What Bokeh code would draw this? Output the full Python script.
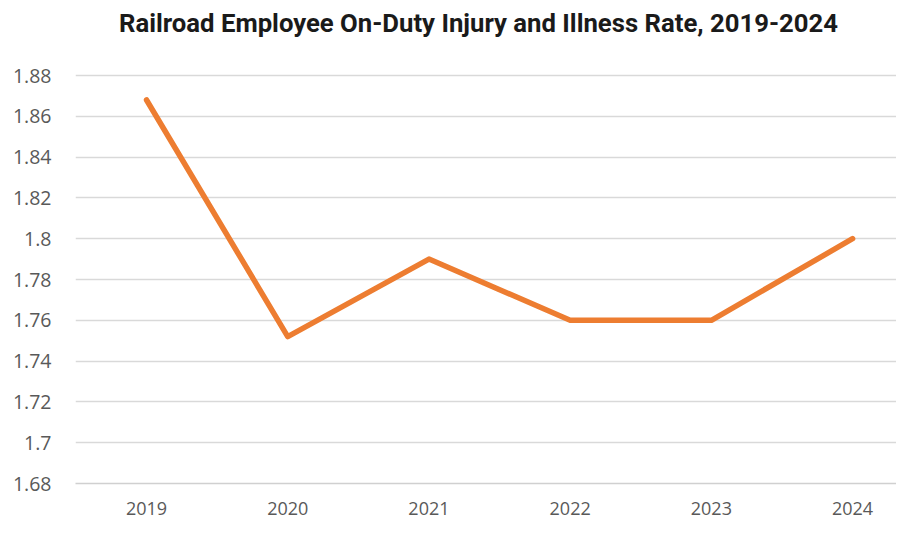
from bokeh.plotting import figure
from bokeh.models import Range1d, FixedTicker, Label, ColumnDataSource
from bokeh.embed import file_html
from bokeh.resources import INLINE

title_text = "Railroad Employee On-Duty Injury and Illness Rate, 2019-2024"
years = [2019, 2020, 2021, 2022, 2023, 2024]
rates = [1.868, 1.752, 1.79, 1.76, 1.76, 1.80]
y_ticks = [1.68, 1.70, 1.72, 1.74, 1.76, 1.78, 1.80, 1.82, 1.84, 1.86, 1.88]
y_labels = ["1.68", "1.7", "1.72", "1.74", "1.76", "1.78", "1.8", "1.82", "1.84", "1.86", "1.88"]

W, H = 896, 520
LEFT, BOTTOM = 75, 37
frame_h = H - BOTTOM            # frame spans the full top (title lives inside it)
grid_top_px = 75                # pixel row of the top gridline (1.88)
y_lo, y_hi = y_ticks[0], y_ticks[-1]
px_per_unit = (frame_h - grid_top_px) / (y_hi - y_lo)
y_top = y_hi + grid_top_px / px_per_unit

src = ColumnDataSource(dict(year=years, rate=rates))

p = figure(width=W, height=H, output_backend="svg", toolbar_location=None,
           x_range=Range1d(2018.497, 2024.311), y_range=Range1d(y_lo, y_top),
           min_border_left=LEFT, min_border_right=0, min_border_top=0, min_border_bottom=BOTTOM)
p.outline_line_color = None
p.background_fill_color = "white"
p.border_fill_color = "white"

p.line("year", "rate", source=src, line_color="#ED7D31", line_width=5.5,
       line_cap="round", line_join="round")

p.yaxis.ticker = FixedTicker(ticks=y_ticks)
p.yaxis.major_label_overrides = {t: l for t, l in zip(y_ticks, y_labels)}
p.yaxis.axis_line_color = None
p.yaxis.major_tick_line_color = None
p.yaxis.minor_tick_line_color = None
p.yaxis.major_label_standoff = 18
p.yaxis.major_label_text_font = "Open Sans"
p.yaxis.major_label_text_font_size = "19.5px"
p.yaxis.major_label_text_color = "#595959"

p.xaxis.ticker = FixedTicker(ticks=years)
p.xaxis.major_label_overrides = {y: str(y) for y in years}
p.xaxis.axis_line_color = "#d0d0d0"
p.xaxis.axis_line_width = 1.5
p.xaxis.major_tick_line_color = None
p.xaxis.minor_tick_line_color = None
p.xaxis.major_label_standoff = 12
p.xaxis.major_label_text_font = "Open Sans"
p.xaxis.major_label_text_font_size = "18px"
p.xaxis.major_label_text_color = "#595959"

p.xgrid.grid_line_color = None
p.ygrid.grid_line_color = "#d9d9d9"
p.ygrid.grid_line_width = 1.5

p.add_layout(Label(x=478 - LEFT, y=frame_h - 22, x_units="screen", y_units="screen",
                   text=title_text, text_align="center", text_baseline="middle",
                   text_font="Roboto", text_font_style="bold", text_font_size="25.7px",
                   text_color="#1a1a1a"))

open("out.html", "w").write(file_html(p, INLINE))
